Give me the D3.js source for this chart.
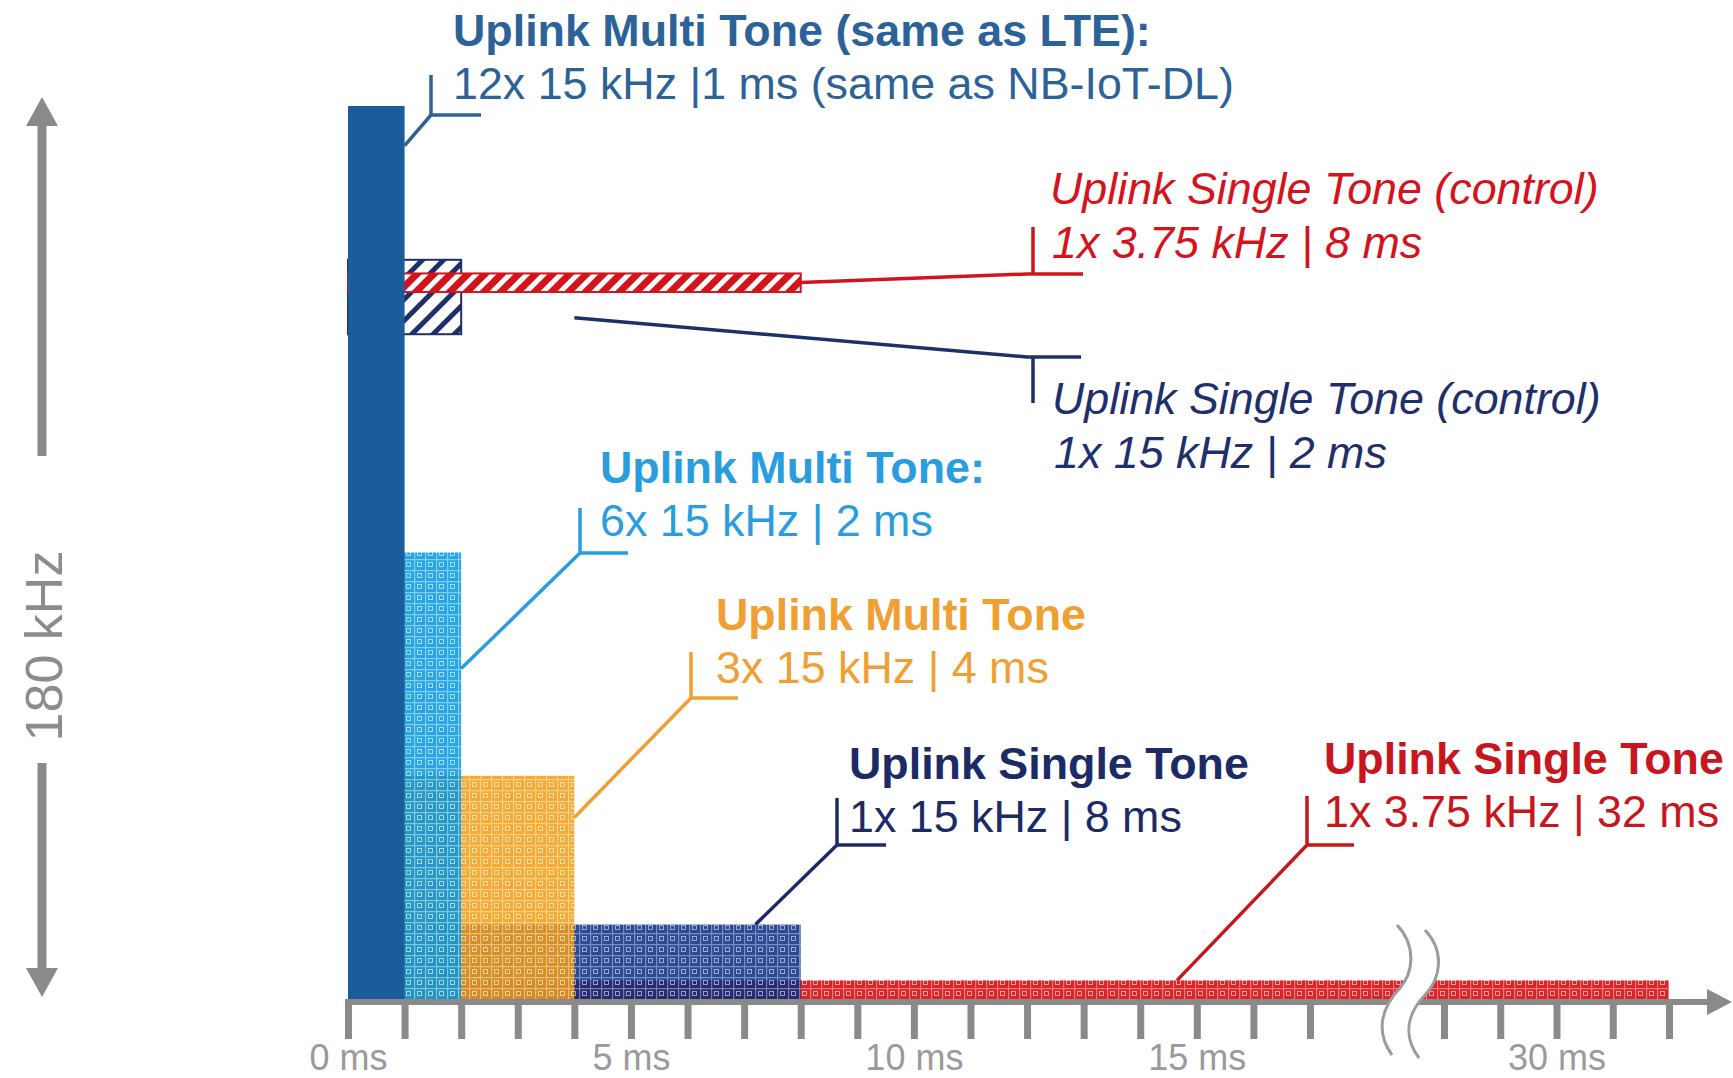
<!DOCTYPE html>
<html>
<head>
<meta charset="utf-8">
<script src="https://cdn.jsdelivr.net/npm/d3@7"></script>
<style>
  html, body { margin: 0; padding: 0; background: #ffffff; }
  svg { display: block; font-family: "Liberation Sans", Arial, sans-serif; }
</style>
</head>
<body>
<svg id="chart" width="1733" height="1078"></svg>
<script>
// ---------------- data ----------------
const seriesKeys   = ["mt12", "mt6", "mt3", "st15", "st375"];
const tones        = [12, 6, 3, 1, 1];
const spacingKHz   = [15, 15, 15, 15, 3.75];
const durationMs   = [1, 2, 4, 8, 32];
const titleLines   = ["Uplink Multi Tone (same as LTE):", "Uplink Multi Tone:", "Uplink Multi Tone", "Uplink Single Tone", "Uplink Single Tone"];
const detailLines  = ["12x 15 kHz |1 ms (same as NB-IoT-DL)", "6x 15 kHz | 2 ms", "3x 15 kHz | 4 ms", "1x 15 kHz | 8 ms", "1x 3.75 kHz | 32 ms"];

const ctrlKeys       = ["ctrl15", "ctrl375"];
const ctrlSpacingKHz = [15, 3.75];
const ctrlDurationMs = [2, 8];
const ctrlLowKHz     = [134, 142.5];
const ctrlTitleLines  = ["Uplink Single Tone (control)", "Uplink Single Tone (control)"];
const ctrlDetailLines = ["1x 15 kHz | 2 ms", "1x 3.75 kHz | 8 ms"];

const bandwidthKHz   = 180;
const bandwidthLabel = "180 kHz";
const tickValues      = [0,1,2,3,4,5,6,7,8,9,10,11,12,13,14,15,16,17,28,29,30,31,32];
const tickLabelValues = [0, 5, 10, 15, 30];
const tickLabels      = ["0 ms", "5 ms", "10 ms", "15 ms", "30 ms"];

// ---------------- styles / layout ----------------
const barBase   = ["#1b5d9b", "#0295df", "#f59b14", "#0a2a7c", "#dd2228"];
const barGrid   = [null, "#6cc6f2", "#fcc870", "#5d7cc0", "#f07a7a"];
const barGlyph  = [null, "#a8dcf7", "#fde0a8", "#93a9d8", "#f8b0b0"];
const textColor = ["#2d6298", "#2a9de0", "#f0a033", "#1c2b66", "#c8161e"];
const ctrlColor = ["#1f2f6a", "#d3141c"];
const axisGray  = "#8a8a8a";
const FS = 44.8;
const LINE_GAP = 53;

// label layout: [textX, titleBaseline, kneeX, kneeY, verticalTop, horizontalRight]
const labelLayout = [
  [453, 46, 431, 115, 75, 481],
  [600, 483, 580, 553, 508, 628],
  [716, 630, 691, 698, 652, 738],
  [849, 779, 837, 845, 798, 886],
  [1324, 774, 1307, 845, 796, 1354]
];
// where each leader touches its bar, in data units [ms, kHz]
const leaderAnchor = [[1, 172], [2, 66.6], [4, 36.6], [7.2, 15], [14.65, 3.75]];

const svg = d3.select("#chart");
const x = d3.scaleLinear().domain([0, 17, 28, 32]).range([348, 1310, 1444, 1669]);
const y = d3.scaleLinear().domain([0, bandwidthKHz]).range([999, 106]);

// ---------------- patterns ----------------
const defs = svg.append("defs");
seriesKeys.forEach((k, i) => {
  if (!barGrid[i]) return;
  const s = 11;
  const p = defs.append("pattern").attr("id", "pat-" + k)
    .attr("patternUnits", "userSpaceOnUse").attr("width", s).attr("height", s)
    .attr("x", x(0)).attr("y", y(0));
  p.append("rect").attr("width", s).attr("height", s).attr("fill", barBase[i]);
  p.append("path").attr("d", `M0,0.6H${s}M0.6,0V${s}`).attr("stroke", barGrid[i]).attr("stroke-width", 1.2).attr("fill", "none");
  p.append("rect").attr("x", 3.5).attr("y", 3.5).attr("width", 4).attr("height", 4)
    .attr("fill", "none").attr("stroke", barGlyph[i]).attr("stroke-width", 0.9);
});
// hatches for control bars
(function () {
  const p1 = defs.append("pattern").attr("id", "hatch-ctrl15").attr("patternUnits", "userSpaceOnUse")
    .attr("width", 15).attr("height", 15).attr("patternTransform", "rotate(45)");
  p1.append("rect").attr("width", 15).attr("height", 15).attr("fill", "#ffffff");
  p1.append("rect").attr("width", 5).attr("height", 15).attr("fill", ctrlColor[0]);
  const p2 = defs.append("pattern").attr("id", "hatch-ctrl375").attr("patternUnits", "userSpaceOnUse")
    .attr("width", 12).attr("height", 12).attr("patternTransform", "rotate(45)");
  p2.append("rect").attr("width", 12).attr("height", 12).attr("fill", ctrlColor[1]);
  p2.append("rect").attr("width", 5).attr("height", 12).attr("fill", "#ffffff");
})();

// ---------------- bars (widest at the back) ----------------
const order = d3.range(seriesKeys.length).sort((a, b) => durationMs[b] - durationMs[a]);
const barsG = svg.append("g");
order.filter(i => i !== 0).forEach(i => {
  const kHz = tones[i] * spacingKHz[i];
  barsG.append("rect")
    .attr("x", x(0)).attr("y", y(kHz))
    .attr("width", x(durationMs[i]) - x(0)).attr("height", y(0) - y(kHz))
    .attr("fill", `url(#pat-${seriesKeys[i]})`)
    .attr("fill-opacity", i === 4 ? 1 : 0.85);
});

// control bars
ctrlKeys.forEach((k, j) => {
  barsG.append("rect")
    .attr("x", x(0)).attr("y", y(ctrlLowKHz[j] + ctrlSpacingKHz[j]))
    .attr("width", x(ctrlDurationMs[j]) - x(0))
    .attr("height", y(ctrlLowKHz[j]) - y(ctrlLowKHz[j] + ctrlSpacingKHz[j]))
    .attr("fill", `url(#hatch-${k})`)
    .attr("stroke", ctrlColor[j]).attr("stroke-width", 2);
});

// the full-band bar on top
barsG.append("rect")
  .attr("x", x(0)).attr("y", y(tones[0] * spacingKHz[0]))
  .attr("width", x(durationMs[0]) - x(0)).attr("height", y(0) - y(tones[0] * spacingKHz[0]))
  .attr("fill", barBase[0]);

// ---------------- x axis ----------------
const axisY = 1002;
const axis = d3.axisBottom(x).tickValues(tickValues).tickSize(37).tickPadding(5)
  .tickFormat(v => { const k = tickLabelValues.indexOf(v); return k >= 0 ? tickLabels[k] : ""; });
const axG = svg.append("g").attr("transform", `translate(0,${axisY})`).call(axis);
axG.select(".domain").remove();
axG.selectAll(".tick line").attr("stroke", axisGray).attr("stroke-width", 7);
axG.selectAll(".tick text").attr("fill", "#9a9a9a").attr("font-size", 36)
  .attr("font-family", "'Liberation Sans', Arial, sans-serif");
svg.append("line").attr("x1", 345).attr("x2", 1712).attr("y1", axisY).attr("y2", axisY)
  .attr("stroke", axisGray).attr("stroke-width", 6);
svg.append("path").attr("d", `M1707,${axisY - 13}L1732,${axisY}L1707,${axisY + 13}Z`).attr("fill", axisGray);

// axis break
const breakL = "M1397,925 C1416,945 1414,972 1400,988 C1383,1006 1374,1030 1392,1055";
const breakR = "M1425,930 C1444,950 1442,977 1425,995 C1408,1013 1402,1035 1419,1058";
svg.append("path")
  .attr("d", "M1397,925 C1416,945 1414,972 1400,988 C1383,1006 1374,1030 1392,1055 L1419,1058 C1402,1035 1408,1013 1425,995 C1442,977 1444,950 1425,930 Z")
  .attr("fill", "#ffffff");
[breakL, breakR].forEach(d => svg.append("path").attr("d", d).attr("fill", "none")
  .attr("stroke", "#9c9c9c").attr("stroke-width", 3));

// ---------------- y (bandwidth) arrow ----------------
const yArrowX = 42;
svg.append("line").attr("x1", yArrowX).attr("x2", yArrowX).attr("y1", y(bandwidthKHz) + 18).attr("y2", 456)
  .attr("stroke", axisGray).attr("stroke-width", 9);
svg.append("line").attr("x1", yArrowX).attr("x2", yArrowX).attr("y1", 763).attr("y2", y(0) - 24)
  .attr("stroke", axisGray).attr("stroke-width", 9);
svg.append("path").attr("d", `M${yArrowX},${y(bandwidthKHz) - 9}L${yArrowX - 16},${y(bandwidthKHz) + 20}L${yArrowX + 16},${y(bandwidthKHz) + 20}Z`).attr("fill", axisGray);
svg.append("path").attr("d", `M${yArrowX},${y(0) - 2}L${yArrowX - 16},${y(0) - 31}L${yArrowX + 16},${y(0) - 31}Z`).attr("fill", axisGray);
svg.append("text").attr("transform", `translate(62,646) rotate(-90)`)
  .attr("text-anchor", "middle").attr("font-size", 52).attr("fill", "#8c8c8c").text(bandwidthLabel);

// ---------------- leaders & labels ----------------
const lg = svg.append("g").attr("fill", "none").attr("stroke-width", 3.5);
seriesKeys.forEach((k, i) => {
  const [tx, ty, kx, ky, vTop, hR] = labelLayout[i];
  const [am, ak] = leaderAnchor[i];
  const c = textColor[i];
  lg.append("path").attr("stroke", c)
    .attr("d", `M${x(am)},${y(ak)}L${kx},${ky}M${kx},${vTop}V${ky}H${hR}`);
  svg.append("text").attr("x", tx).attr("y", ty).attr("font-size", FS).attr("font-weight", 700)
    .attr("fill", c).text(titleLines[i]);
  svg.append("text").attr("x", tx).attr("y", ty + LINE_GAP).attr("font-size", FS)
    .attr("fill", c).text(detailLines[i]);
});

// control labels: [textX, titleBaseline, startX(ms), startKHz, kneeX, kneeY, vertEnd, horizontalRight]
const ctrlLayout = [
  [1052, 414, 4, 137.3, 1033, 357, 403, 1081],
  [1050, 204, 8, 144.4, 1033, 274, 227, 1083]
];
ctrlKeys.forEach((k, j) => {
  const [tx, ty, sm, sk, kx, ky, vEnd, hR] = ctrlLayout[j];
  const c = ctrlColor[j];
  lg.append("path").attr("stroke", c)
    .attr("d", `M${x(sm)},${y(sk)}L${kx - 6},${ky}H${hR}M${kx},${ky}V${vEnd}`);
  svg.append("text").attr("x", tx).attr("y", ty).attr("font-size", FS).attr("font-style", "italic")
    .attr("fill", c).text(ctrlTitleLines[j]);
  svg.append("text").attr("x", tx + 2).attr("y", ty + LINE_GAP + 1).attr("font-size", FS).attr("font-style", "italic")
    .attr("fill", c).text(ctrlDetailLines[j]);
});
</script>
</body>
</html>
